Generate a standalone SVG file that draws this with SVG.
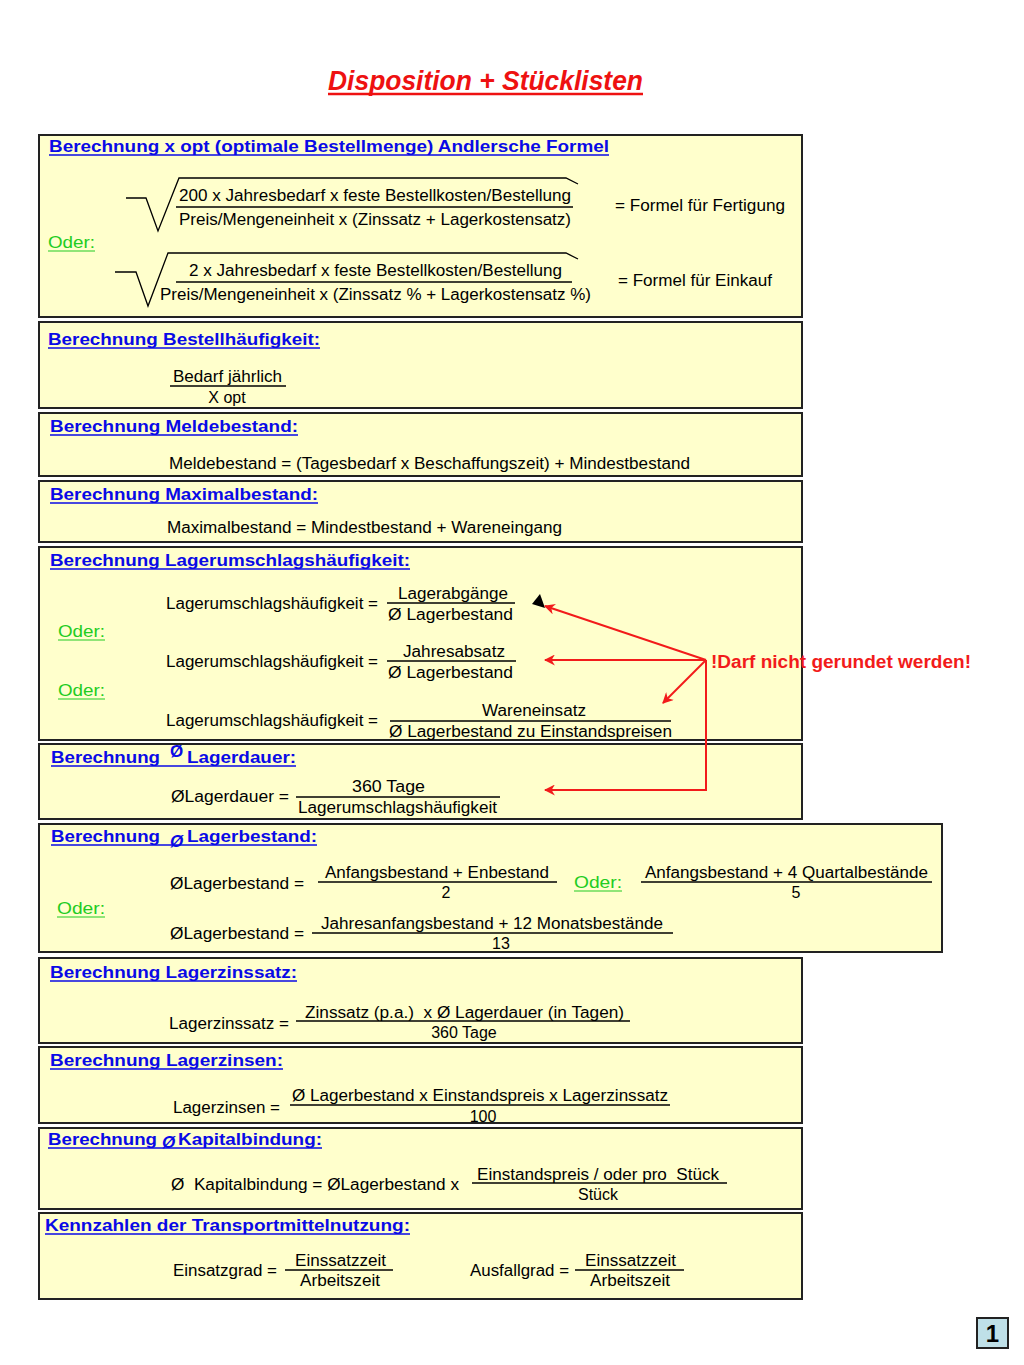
<svg xmlns="http://www.w3.org/2000/svg" width="1024" height="1365" viewBox="0 0 1024 1365">
<defs>
<style>
.box{fill:#FFFFCC;stroke:#222;stroke-width:2}
.h{font-family:"Liberation Sans",Arial,sans-serif;font-weight:bold;font-size:17px;fill:#0A0AE6}
.t{font-family:"Liberation Sans",Arial,sans-serif;font-size:16px;fill:#000}
.g{font-family:"Liberation Sans",Arial,sans-serif;font-size:17px;fill:#22CC22}
.fl{stroke:#000;stroke-width:1.3;fill:none}
.ul{stroke:#0A0AE6;stroke-width:1.4}
.gl{stroke:#22CC22;stroke-width:1.2}
.red{stroke:#F21B1B;stroke-width:2;fill:none}
</style>
<marker id="ra" viewBox="0 0 10 10" refX="9" refY="5" markerWidth="11" markerHeight="11" markerUnits="userSpaceOnUse" orient="auto">
<path d="M0,0 L10,5 L0,10 L3,5 z" fill="#F21B1B"/>
</marker>
</defs>
<rect width="1024" height="1365" fill="#FFFFFF"/>

<g id="title">
<text x="328" y="90" textLength="315" lengthAdjust="spacingAndGlyphs" style="font-family:'Liberation Sans',Arial,sans-serif;font-weight:bold;font-style:italic;font-size:27px;fill:#EE1111">Disposition + Stücklisten</text>
<line x1="328" y1="94" x2="643" y2="94" stroke="#EE1111" stroke-width="2.5"/>
</g>

<g id="box-xopt">
<rect class="box" x="39" y="135" width="763" height="182"/>
<text class="h" x="49" y="152" textLength="560" lengthAdjust="spacingAndGlyphs">Berechnung x opt (optimale Bestellmenge) Andlersche Formel</text>
<line class="ul" x1="49" y1="155" x2="609" y2="155"/>
<path class="fl" d="M126,198 L146,198 L158,231 L179,178 L566,178 L578,184"/>
<text class="t" x="179" y="201" textLength="392" lengthAdjust="spacingAndGlyphs">200 x Jahresbedarf x feste Bestellkosten/Bestellung</text>
<line class="fl" x1="176" y1="207" x2="573" y2="207"/>
<text class="t" x="179" y="225" textLength="392" lengthAdjust="spacingAndGlyphs">Preis/Mengeneinheit x (Zinssatz + Lagerkostensatz)</text>
<text class="t" x="615" y="211" textLength="170" lengthAdjust="spacingAndGlyphs">= Formel für Fertigung</text>
<text class="g" x="48" y="248" textLength="47" lengthAdjust="spacingAndGlyphs">Oder:</text>
<line class="gl" x1="48" y1="251" x2="95" y2="251"/>
<path class="fl" d="M115,272 L136,272 L148,306 L168,253 L566,253 L578,259"/>
<text class="t" x="189" y="276" textLength="373" lengthAdjust="spacingAndGlyphs">2 x Jahresbedarf x feste Bestellkosten/Bestellung</text>
<line class="fl" x1="176" y1="282" x2="572" y2="282"/>
<text class="t" x="160" y="300" textLength="431" lengthAdjust="spacingAndGlyphs">Preis/Mengeneinheit x (Zinssatz % + Lagerkostensatz %)</text>
<text class="t" x="618" y="286" textLength="154" lengthAdjust="spacingAndGlyphs">= Formel für Einkauf</text>
</g>

<g id="box-bestellhaeufigkeit">
<rect class="box" x="39" y="322" width="763" height="86"/>
<text class="h" x="48" y="345" textLength="272" lengthAdjust="spacingAndGlyphs">Berechnung Bestellhäufigkeit:</text>
<line class="ul" x1="48" y1="348" x2="320" y2="348"/>
<text class="t" x="173" y="382" textLength="109" lengthAdjust="spacingAndGlyphs">Bedarf jährlich</text>
<line class="fl" x1="170" y1="386" x2="286" y2="386"/>
<text class="t" x="227" y="403" text-anchor="middle">X opt</text>
</g>

<g id="box-meldebestand">
<rect class="box" x="39" y="413" width="763" height="63"/>
<text class="h" x="50" y="432" textLength="248" lengthAdjust="spacingAndGlyphs">Berechnung Meldebestand:</text>
<line class="ul" x1="50" y1="435" x2="298" y2="435"/>
<text class="t" x="169" y="469" textLength="521" lengthAdjust="spacingAndGlyphs">Meldebestand = (Tagesbedarf x Beschaffungszeit) + Mindestbestand</text>
</g>

<g id="box-maximalbestand">
<rect class="box" x="39" y="481" width="763" height="61"/>
<text class="h" x="50" y="500" textLength="268" lengthAdjust="spacingAndGlyphs">Berechnung Maximalbestand:</text>
<line class="ul" x1="50" y1="503" x2="318" y2="503"/>
<text class="t" x="167" y="533" textLength="395" lengthAdjust="spacingAndGlyphs">Maximalbestand = Mindestbestand + Wareneingang</text>
</g>

<g id="box-lagerumschlag">
<rect class="box" x="39" y="547" width="763" height="193"/>
<text class="h" x="50" y="566" textLength="360" lengthAdjust="spacingAndGlyphs">Berechnung Lagerumschlagshäufigkeit:</text>
<line class="ul" x1="50" y1="569" x2="410" y2="569"/>
<text class="t" x="166" y="609" textLength="212" lengthAdjust="spacingAndGlyphs">Lagerumschlagshäufigkeit =</text>
<text class="t" x="398" y="599" textLength="110" lengthAdjust="spacingAndGlyphs">Lagerabgänge</text>
<line class="fl" x1="387" y1="603" x2="515" y2="603"/>
<text class="t" x="388" y="620" textLength="125" lengthAdjust="spacingAndGlyphs">Ø Lagerbestand</text>
<polygon points="532,604 540,594 545,608" fill="#000"/>
<text class="g" x="58" y="637" textLength="47" lengthAdjust="spacingAndGlyphs">Oder:</text>
<line class="gl" x1="58" y1="640" x2="105" y2="640"/>
<text class="t" x="166" y="667" textLength="212" lengthAdjust="spacingAndGlyphs">Lagerumschlagshäufigkeit =</text>
<text class="t" x="403" y="657" textLength="102" lengthAdjust="spacingAndGlyphs">Jahresabsatz</text>
<line class="fl" x1="387" y1="661" x2="516" y2="661"/>
<text class="t" x="388" y="678" textLength="125" lengthAdjust="spacingAndGlyphs">Ø Lagerbestand</text>
<text class="g" x="58" y="696" textLength="47" lengthAdjust="spacingAndGlyphs">Oder:</text>
<line class="gl" x1="58" y1="699" x2="105" y2="699"/>
<text class="t" x="166" y="726" textLength="212" lengthAdjust="spacingAndGlyphs">Lagerumschlagshäufigkeit =</text>
<text class="t" x="482" y="716" textLength="104" lengthAdjust="spacingAndGlyphs">Wareneinsatz</text>
<line class="fl" x1="390" y1="721" x2="671" y2="721"/>
<text class="t" x="389" y="737" textLength="283" lengthAdjust="spacingAndGlyphs">Ø Lagerbestand zu Einstandspreisen</text>
</g>

<g id="box-lagerdauer">
<rect class="box" x="39" y="744" width="763" height="75"/>
<text class="h" x="51" y="763" textLength="109" lengthAdjust="spacingAndGlyphs">Berechnung</text>
<text class="h" x="170" y="757" font-size="15">Ø</text>
<text class="h" x="187" y="763" textLength="109" lengthAdjust="spacingAndGlyphs">Lagerdauer:</text>
<line class="ul" x1="51" y1="766" x2="296" y2="766"/>
<text class="t" x="171" y="802" textLength="118" lengthAdjust="spacingAndGlyphs">ØLagerdauer =</text>
<text class="t" x="352" y="792" textLength="73" lengthAdjust="spacingAndGlyphs">360 Tage</text>
<line class="fl" x1="296" y1="797" x2="500" y2="797"/>
<text class="t" x="298" y="813" textLength="199" lengthAdjust="spacingAndGlyphs">Lagerumschlagshäufigkeit</text>
</g>

<g id="box-lagerbestand">
<rect class="box" x="39" y="824" width="903" height="128"/>
<text class="h" x="51" y="842" textLength="109" lengthAdjust="spacingAndGlyphs">Berechnung</text>
<text class="h" x="170" y="847" font-size="14" font-style="italic">Ø</text>
<text class="h" x="187" y="842" textLength="130" lengthAdjust="spacingAndGlyphs">Lagerbestand:</text>
<line class="ul" x1="51" y1="845" x2="317" y2="845"/>
<text class="t" x="170" y="889" textLength="134" lengthAdjust="spacingAndGlyphs">ØLagerbestand =</text>
<text class="t" x="325" y="878" textLength="224" lengthAdjust="spacingAndGlyphs">Anfangsbestand + Enbestand</text>
<line class="fl" x1="318" y1="882" x2="557" y2="882"/>
<text class="t" x="446" y="898" text-anchor="middle">2</text>
<text class="g" x="574" y="888" textLength="48" lengthAdjust="spacingAndGlyphs">Oder:</text>
<line class="gl" x1="574" y1="891" x2="622" y2="891"/>
<text class="t" x="645" y="878" textLength="283" lengthAdjust="spacingAndGlyphs">Anfangsbestand + 4 Quartalbestände</text>
<line class="fl" x1="641" y1="882" x2="932" y2="882"/>
<text class="t" x="796" y="898" text-anchor="middle">5</text>
<text class="g" x="57" y="914" textLength="48" lengthAdjust="spacingAndGlyphs">Oder:</text>
<line class="gl" x1="57" y1="917" x2="105" y2="917"/>
<text class="t" x="170" y="939" textLength="134" lengthAdjust="spacingAndGlyphs">ØLagerbestand =</text>
<text class="t" x="321" y="929" textLength="342" lengthAdjust="spacingAndGlyphs">Jahresanfangsbestand + 12 Monatsbestände</text>
<line class="fl" x1="312" y1="933" x2="673" y2="933"/>
<text class="t" x="501" y="949" text-anchor="middle">13</text>
</g>

<g id="box-lagerzinssatz">
<rect class="box" x="39" y="958" width="763" height="85"/>
<text class="h" x="50" y="978" textLength="247" lengthAdjust="spacingAndGlyphs">Berechnung Lagerzinssatz:</text>
<line class="ul" x1="50" y1="981" x2="297" y2="981"/>
<text class="t" x="169" y="1029" textLength="120" lengthAdjust="spacingAndGlyphs">Lagerzinssatz =</text>
<text class="t" x="305" y="1018" textLength="319" lengthAdjust="spacingAndGlyphs" xml:space="preserve">Zinssatz (p.a.)  x Ø Lagerdauer (in Tagen)</text>
<line class="fl" x1="296" y1="1021" x2="630" y2="1021"/>
<text class="t" x="464" y="1038" text-anchor="middle">360 Tage</text>
</g>

<g id="box-lagerzinsen">
<rect class="box" x="39" y="1047" width="763" height="76"/>
<text class="h" x="50" y="1066" textLength="233" lengthAdjust="spacingAndGlyphs">Berechnung Lagerzinsen:</text>
<line class="ul" x1="50" y1="1069" x2="283" y2="1069"/>
<text class="t" x="173" y="1113" textLength="107" lengthAdjust="spacingAndGlyphs">Lagerzinsen =</text>
<text class="t" x="292" y="1101" textLength="376" lengthAdjust="spacingAndGlyphs">Ø Lagerbestand x Einstandspreis x Lagerzinssatz</text>
<line class="fl" x1="290" y1="1105" x2="670" y2="1105"/>
<text class="t" x="483" y="1122" text-anchor="middle">100</text>
</g>

<g id="box-kapitalbindung">
<rect class="box" x="39" y="1128" width="763" height="81"/>
<text class="h" x="48" y="1145" textLength="109" lengthAdjust="spacingAndGlyphs">Berechnung</text>
<text class="h" x="162" y="1148" font-size="15" font-style="italic">Ø</text>
<text class="h" x="178" y="1145" textLength="144" lengthAdjust="spacingAndGlyphs">Kapitalbindung:</text>
<line class="ul" x1="48" y1="1148" x2="322" y2="1148"/>
<text class="t" x="171" y="1190" textLength="288" lengthAdjust="spacingAndGlyphs" xml:space="preserve">Ø  Kapitalbindung = ØLagerbestand x</text>
<text class="t" x="477" y="1180" textLength="242" lengthAdjust="spacingAndGlyphs" xml:space="preserve">Einstandspreis / oder pro  Stück</text>
<line class="fl" x1="472" y1="1183" x2="727" y2="1183"/>
<text class="t" x="598" y="1200" text-anchor="middle">Stück</text>
</g>

<g id="box-transport">
<rect class="box" x="39" y="1213" width="763" height="86"/>
<text class="h" x="45" y="1231" textLength="365" lengthAdjust="spacingAndGlyphs">Kennzahlen der Transportmittelnutzung:</text>
<line class="ul" x1="45" y1="1234" x2="410" y2="1234"/>
<text class="t" x="173" y="1276" textLength="104" lengthAdjust="spacingAndGlyphs">Einsatzgrad =</text>
<text class="t" x="295" y="1266" textLength="91" lengthAdjust="spacingAndGlyphs">Einssatzzeit</text>
<line class="fl" x1="285" y1="1270" x2="393" y2="1270"/>
<text class="t" x="300" y="1286" textLength="80" lengthAdjust="spacingAndGlyphs">Arbeitszeit</text>
<text class="t" x="470" y="1276" textLength="99" lengthAdjust="spacingAndGlyphs">Ausfallgrad =</text>
<text class="t" x="585" y="1266" textLength="91" lengthAdjust="spacingAndGlyphs">Einssatzzeit</text>
<line class="fl" x1="575" y1="1270" x2="684" y2="1270"/>
<text class="t" x="590" y="1286" textLength="80" lengthAdjust="spacingAndGlyphs">Arbeitszeit</text>
</g>

<g id="note">
<text x="711" y="668" textLength="260" lengthAdjust="spacingAndGlyphs" style="font-family:'Liberation Sans',Arial,sans-serif;font-weight:bold;font-size:18px;fill:#F21B1B">!Darf nicht gerundet werden!</text>
</g>

<g id="connectors">
<line class="red" x1="706" y1="660" x2="545" y2="606" marker-end="url(#ra)"/>
<line class="red" x1="706" y1="660" x2="545" y2="660" marker-end="url(#ra)"/>
<line class="red" x1="706" y1="660" x2="663" y2="703" marker-end="url(#ra)"/>
<polyline class="red" points="706,660 706,790 545,790" marker-end="url(#ra)"/>
</g>

<g id="page-number">
<rect x="977" y="1318" width="31" height="30" fill="#BFE0E8" stroke="#222" stroke-width="2"/>
<text x="992.5" y="1342" text-anchor="middle" style="font-family:'Liberation Sans',Arial,sans-serif;font-weight:bold;font-size:24px;fill:#000">1</text>
</g>
</svg>
